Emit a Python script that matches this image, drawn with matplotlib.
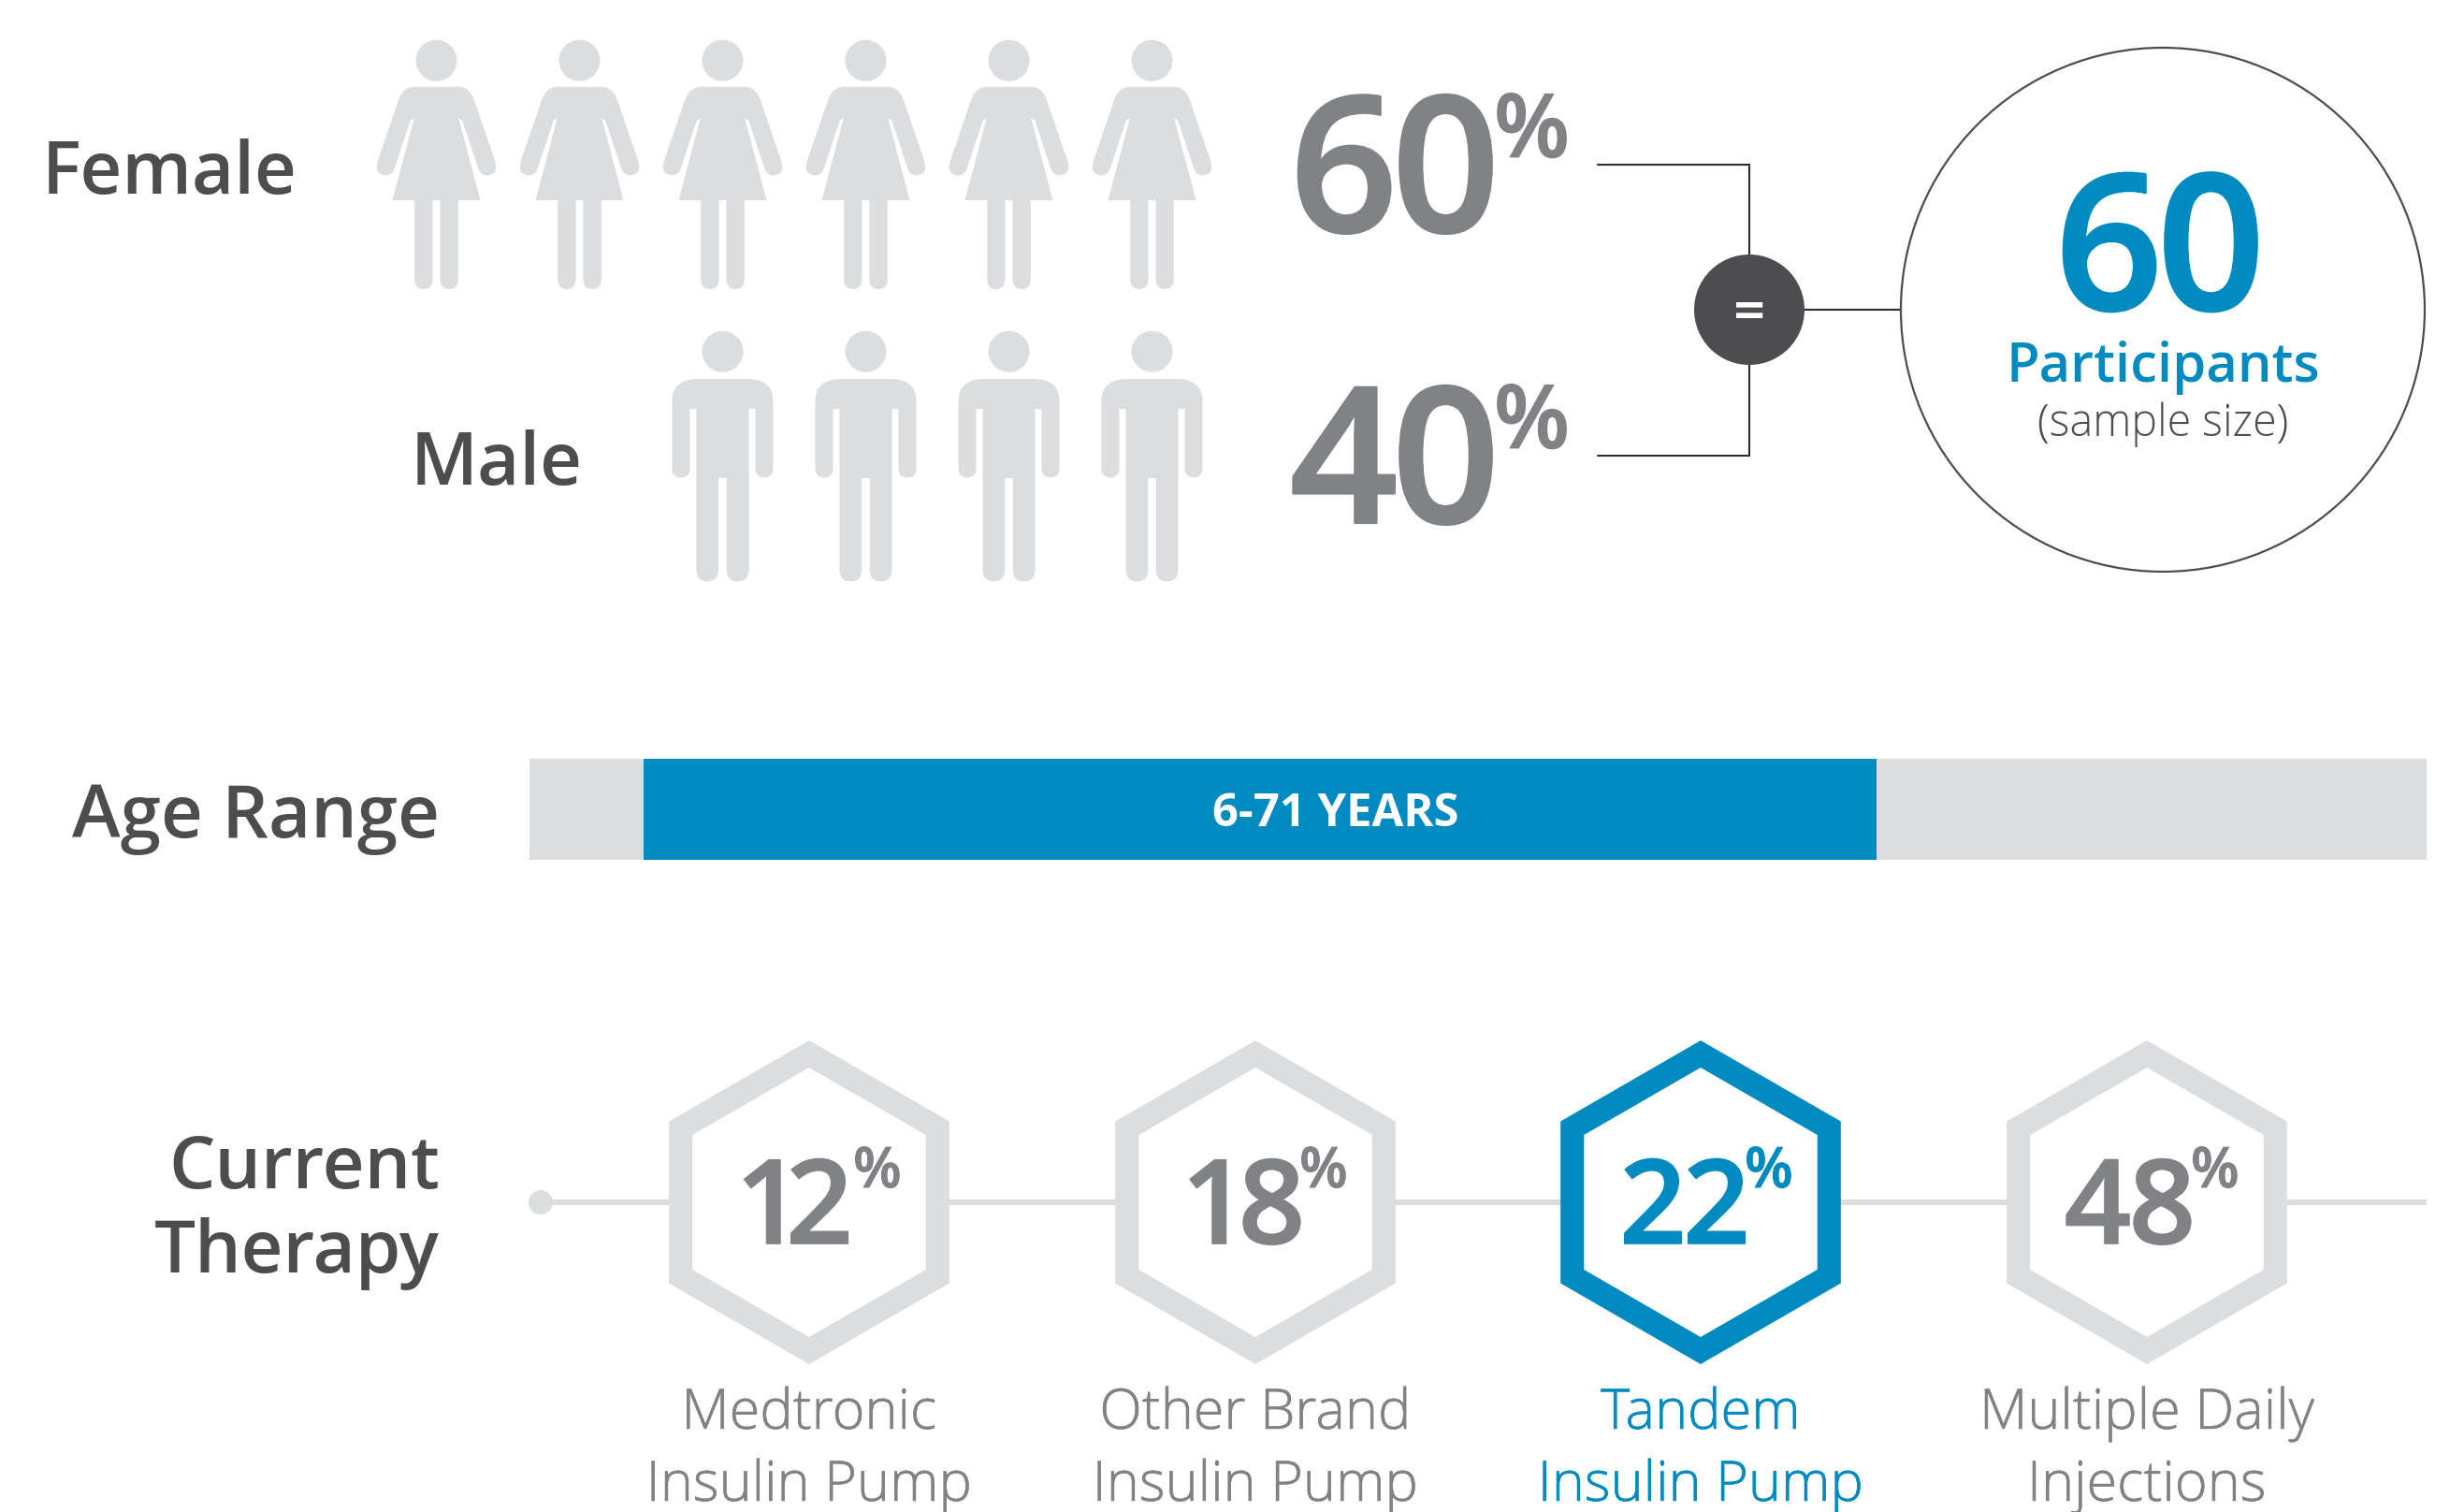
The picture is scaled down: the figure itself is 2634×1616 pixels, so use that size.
import matplotlib
matplotlib.use('Agg')
import matplotlib.pyplot as plt
import matplotlib.patheffects as pe
from matplotlib.patches import Circle, PathPatch, Polygon, Rectangle
from matplotlib.path import Path
import numpy as np

plt.rcParams['font.family'] = ['Open Sans', 'DejaVu Sans']

# data
gender_labels = ['Female', 'Male']
gender_shares = [60, 40]
sample_size = 60
age_min = 6
age_max = 71
age_scale_max = 100
therapy_labels = [['Medtronic', 'Insulin Pump'], ['Other Brand', 'Insulin Pump'],
                  ['Tandem', 'Insulin Pump'], ['Multiple Daily', 'Injections']]
therapy_shares = [12, 18, 22, 48]
highlighted_therapy = 2

GREY = '#dcddde'
MID = '#808285'
DARK = '#4d4d4f'
LINE = '#2f2c2d'
BLUE = '#008bc0'

W, H = 2634, 1616
DPI = 100

fig = plt.figure(figsize=(W / DPI, H / DPI), dpi=DPI)
ax = fig.add_axes([0, 0, 1, 1])
ax.set_xlim(0, W)
ax.set_ylim(H, 0)
ax.axis('off')


def px(size):
    # font size in points for an em size in pixels
    return size * 72 / DPI


def label(x, y, s, em, color, weight='normal', ha='left', stroke=0):
    t = ax.text(x, y, s, fontsize=px(em), color=color, fontweight=weight, ha=ha, va='baseline', zorder=4)
    if stroke:
        # thicken the glyphs a little, between two of the font's weights
        t.set_path_effects([pe.withStroke(linewidth=stroke, foreground=color)])
    return t


def tight_number(centre, y, s, em, color, step, stroke):
    # digits set one by one so they sit closer than the font's own spacing
    start = centre - step * (len(s) - 1) / 2
    for i, digit in enumerate(s):
        label(start + i * step, y, digit, em, color, 'semibold', ha='center', stroke=stroke)


def half_outline(kind):
    # right half of a figure, top to bottom then back to the centre line, offsets from the head centre
    if kind == 'Female':
        return [(Path.LINETO, (22.7, 28)), (Path.CURVE3, (36, 28)), (Path.CURVE3, (41, 43.7)),
                (Path.LINETO, (63.3, 109.3)), (Path.CURVE3, (66, 122)), (Path.CURVE3, (54, 122.7)),
                (Path.CURVE3, (47.5, 122.7)), (Path.CURVE3, (45, 116)), (Path.LINETO, (27.7, 64)),
                (Path.LINETO, (23.7, 61.3)), (Path.LINETO, (47, 149.3)), (Path.LINETO, (23.3, 149.3)),
                (Path.LINETO, (23.3, 233.7)), (Path.CURVE3, (23.3, 244.3)), (Path.CURVE3, (13.7, 244.3)),
                (Path.CURVE3, (4, 244.3)), (Path.CURVE3, (4, 233.7)), (Path.LINETO, (4, 149.3))]
    return [(Path.LINETO, (26, 29.3)), (Path.CURVE3, (54, 29.3)), (Path.CURVE3, (54, 53)),
            (Path.LINETO, (54, 125)), (Path.CURVE3, (54, 134.7)), (Path.CURVE3, (44.7, 134.7)),
            (Path.CURVE3, (35, 134.7)), (Path.CURVE3, (35, 125)), (Path.LINETO, (35, 61.3)),
            (Path.LINETO, (28, 61.3)), (Path.LINETO, (28, 233)), (Path.CURVE3, (28, 245.7)),
            (Path.CURVE3, (16, 245.7)), (Path.CURVE3, (4.3, 245.7)), (Path.CURVE3, (4.3, 233)),
            (Path.LINETO, (4.3, 135.3))]


def figure_path(kind, cx, cy):
    half = half_outline(kind)
    right = [p for _, p in half]
    codes = [c for c, _ in half]
    # the left half runs backwards, so its codes shift by one vertex
    left = [(-x, y) for x, y in reversed(right)]
    left_codes = [Path.LINETO] + list(reversed(codes[1:]))
    verts = right + left + [right[0]]
    all_codes = [Path.MOVETO] + codes[1:] + left_codes + [Path.CLOSEPOLY]
    verts = np.array(verts) + [cx, cy]
    return Path(verts, all_codes)


def draw_person(kind, cx, cy):
    ax.add_patch(Circle((cx, cy), 22, fc=GREY, ec='none'))
    ax.add_patch(PathPatch(figure_path(kind, cx, cy), fc=GREY, ec='none'))


# people rows: one figure per ten percent, aligned to the right
icon_right = 1231.5
icon_step = 153
row_y = [64.7, 375.7]
name_right = [318, 623]
name_base = [207, 518]
for name, share, y, nr, nb in zip(gender_labels, gender_shares, row_y, name_right, name_base):
    for i in range(share // 10):
        draw_person(name, icon_right - icon_step * i, y)
    label(nr, nb, name, 78, DARK, 'semibold', ha='right')
    tight_number(1491, y + 183, str(share), 202, MID, 109, 2)
    label(1597, y + 103, '%', 94, MID, 'semibold', stroke=1)

# bracket joining the two shares into the sample circle
ax.plot([1708, 1870, 1870, 1708], [175.5, 175.5, 487, 487], color=LINE, lw=1.5, solid_capstyle='round',
        solid_joinstyle='miter')
ax.plot([1870, 2033], [331, 331], color=LINE, lw=1.5)
ax.add_patch(Circle((1870, 331), 59, fc=DARK, ec='none', zorder=3))
label(1870, 353, '=', 60, 'white', 'semibold', ha='center')
ax.add_patch(Circle((2312, 331), 280, fc='white', ec=DARK, lw=1.6, zorder=3))
tight_number(2309, 331, str(sample_size), 202, BLUE, 109, 2)
label(2312, 408, 'Participants', 58, BLUE, 'semibold', ha='center')
label(2312, 466, '(sample size)', 46.7, DARK, 'light', ha='center')

# age range bar
bar_left, bar_right = 566, 2594
bar_top, bar_h = 811, 108
age_px = (bar_right - bar_left) / age_scale_max
ax.add_patch(Rectangle((bar_left, bar_top), bar_right - bar_left, bar_h, fc=GREY, ec='none'))
ax.add_patch(Rectangle((bar_left + age_min * age_px, bar_top), (age_max - age_min) * age_px, bar_h, fc=BLUE, ec='none'))
label(77, 895, 'Age Range', 78, DARK, 'semibold')
label(1428, 883, f'{age_min}-{age_max} YEARS', 49, 'white', 'bold', ha='center')

# current therapy timeline
line_y = 1285
label(470, 1270, 'Current', 78, DARK, 'semibold', ha='right')
label(470, 1360, 'Therapy', 78, DARK, 'semibold', ha='right')
ax.add_patch(Rectangle((578, line_y - 3.3), 2594 - 578, 6.6, fc=GREY, ec='none'))
ax.add_patch(Circle((578, line_y), 13, fc=GREY, ec='none'))


def hexagon(cx, cy, r):
    angles = np.radians(np.arange(90, 450, 60))
    return np.column_stack([cx + r * np.cos(angles), cy - r * np.sin(angles)])


# the digits differ in width, so each pair gets its own spacing and shift
digit_gap = [54, 61, 68, 69]
number_shift = [-16, -13, -17, -18]
hex_x = [865, 1342, 1818, 2295]
for i, (cx, share, lines) in enumerate(zip(hex_x, therapy_shares, therapy_labels)):
    ring = BLUE if i == highlighted_therapy else GREY
    tone = BLUE if i == highlighted_therapy else MID
    ax.add_patch(Polygon(hexagon(cx, line_y, 173), fc=ring, ec='none', zorder=2))
    ax.add_patch(Polygon(hexagon(cx, line_y, 144), fc='white', ec='none', zorder=2))
    tight_number(cx + number_shift[i], line_y + 44, str(share), 125, tone, digit_gap[i], 1.2)
    label(cx + 47, line_y - 16, '%', 60, tone, 'semibold', stroke=0.7)
    label(cx, 1527, lines[0], 59.5, tone, 'light', ha='center', stroke=0.4)
    label(cx, 1604, lines[1], 59.5, tone, 'light', ha='center', stroke=0.4)

fig.savefig('out.png', dpi=DPI, facecolor='white')
